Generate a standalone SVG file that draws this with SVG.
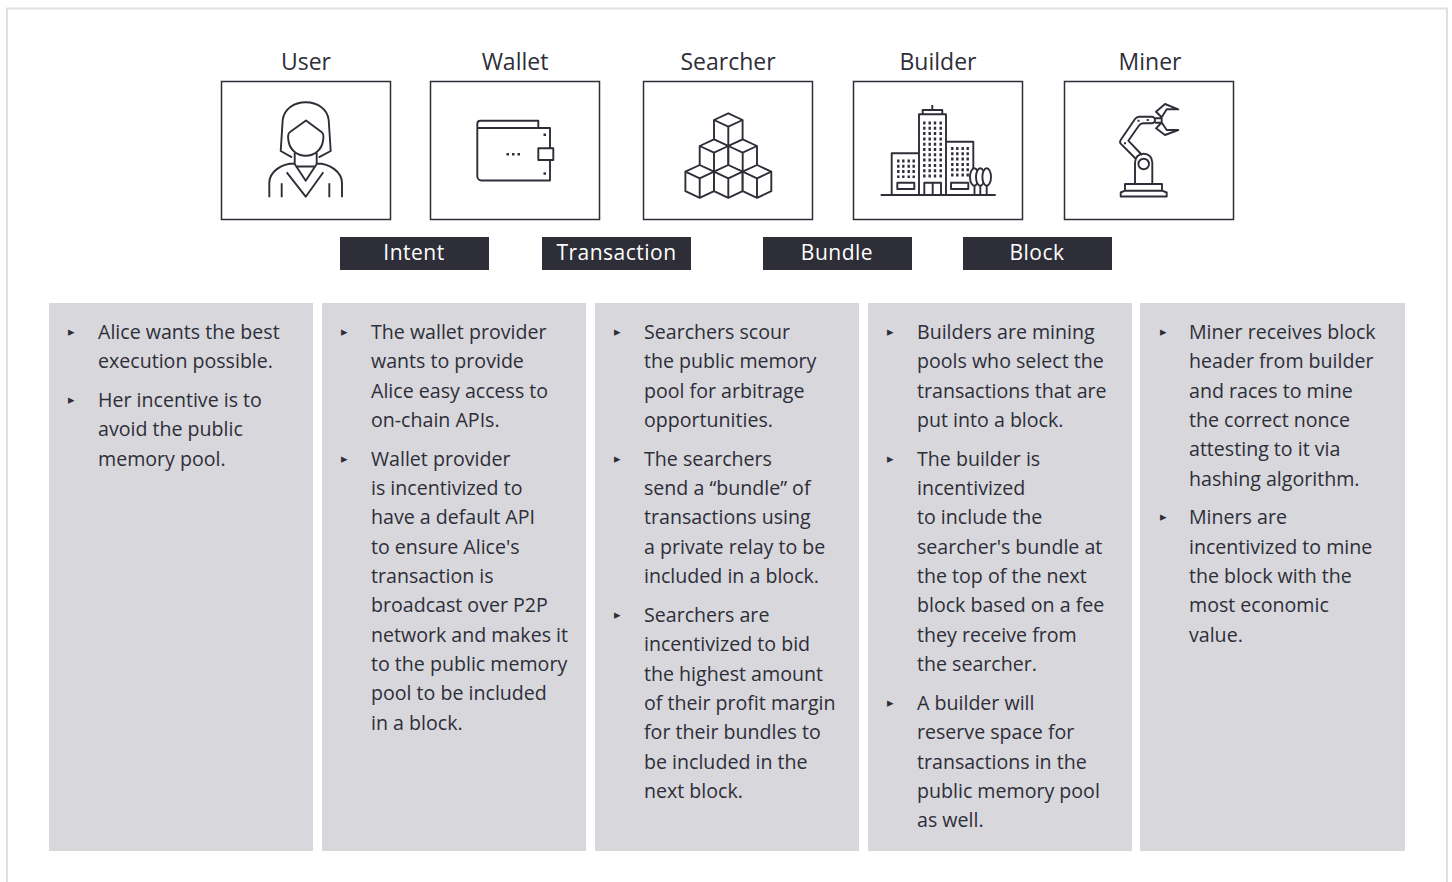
<svg xmlns="http://www.w3.org/2000/svg" width="1452" height="882" viewBox="0 0 1452 882">
<style>
text{font-family:"Open Sans","Noto Sans","Liberation Sans",sans-serif;fill:#2e2e38}
.h{font-size:23px;text-anchor:middle;font-weight:500}
.t{font-size:19.6px}
.b{font-size:13px;font-family:"DejaVu Sans",sans-serif}
.l{font-size:21px;text-anchor:middle;fill:#fff;font-weight:500;letter-spacing:.5px}
.box{fill:#fff;stroke:#2e2e38;stroke-width:1.5}
.col{fill:#d7d7dc}
.tag{fill:#2e2e38}
.i{fill:none;stroke:#2e2e38;stroke-width:1.9;stroke-linejoin:round;stroke-linecap:butt}
.w{fill:#fff}
.d{fill:none;stroke:#2e2e38;stroke-width:2.4;stroke-dasharray:3 2.3}
</style>
<defs>
<g id="cube"><path class="i w" d="M0 0L14.300 6.700V26.200L0 32.900L-14.300 26.200V6.700Z"/><path class="i" d="M-14.300 6.700L0 13.400L14.300 6.700M0 13.400V32.900"/></g>
</defs>
<rect x="7" y="8.500" width="1440" height="900" fill="none" stroke="#e0e0e4" stroke-width="2"/>
<g id="user"><text class="h" x="306" y="70">User</text><rect class="box" x="221.500" y="81.500" width="169" height="138"/>
<path class="i" d="M292 157.300L280.700 151L282.700 120C284 109 294 102.300 305.700 102.300S327.500 109 328.700 120L330.700 151L318.700 157.300M306 120.500L290 132C287 134 288 138 288.500 141C290 150 297 155.700 305.700 155.700S321.500 150 323 141C323.500 138 324.500 134 321.500 132ZM294.700 153V164L305.700 180.700L316.700 164V153M297 166.500H314.500M269.300 197.300V183C269.300 172 281 163.500 294.700 163.500M342 197.300V183C342 172 330 163.500 316.700 163.500M286.700 172.300L305.700 196.700L323.300 172.300M281.700 183.300V197.300M329.300 183.300V197.300"/></g>
<g id="wallet"><text class="h" x="515" y="70">Wallet</text><rect class="box" x="430.500" y="81.500" width="169" height="138"/>
<path class="i" d="M477.300 128V124C477.300 122 478.500 120.700 480.500 120.700H538.300V128H477.300V176C477.300 178.500 479 180.500 481.500 180.500H550V160M550 148.300V128H538.300M538.300 148.300H553.300V160H538.300Z"/>
<path fill="#2e2e38" d="M543.500 133.500h2.500v2.500h-2.500zM543.500 172.300h2.500v2.500h-2.500zM506.500 153h2.500v2.500h-2.500zM512 153h2.500v2.500h-2.500zM517.500 153h2.500v2.500h-2.500z"/></g>
<g id="searcher"><text class="h" x="728" y="70">Searcher</text><rect class="box" x="643.500" y="81.500" width="169" height="138"/>
<use href="#cube" x="728.300" y="113.300"/><use href="#cube" x="714" y="139.300"/><use href="#cube" x="742.700" y="139.300"/><use href="#cube" x="699.700" y="165"/><use href="#cube" x="728.300" y="165"/><use href="#cube" x="757" y="165"/></g>
<g id="builder"><text class="h" x="938" y="70">Builder</text><rect class="box" x="853.500" y="81.500" width="169" height="138"/>
<path class="i" d="M880.700 195H995.700M891.700 195V153.300H919M919 195V114.300H946V195M946 141.700H973.300V171.500M946 195H975M922.700 114.300V110H942.300V114.300M932.300 110V105M924.300 195V182.700H941V195M932.700 182.700V195M897.300 182.700H914.300V189H897.300ZM951 182.700H968.300V189H951Z"/>
<path class="i" d="M974.500 195V183M980.300 195V183M986.700 195V183"/>
<ellipse class="i w" cx="974.300" cy="177" rx="4.300" ry="8.700"/><ellipse class="i w" cx="980.300" cy="177" rx="4.300" ry="8.700"/><ellipse class="i w" cx="986.700" cy="177" rx="4.300" ry="8.700"/>
<path class="d" d="M898.300 159.500V178M903.300 159.500V178M908.700 159.500V178M913.700 159.500V178M924.300 121.500V178M929.700 121.500V178M935 121.500V178M940.700 121.500V178M952.300 147V178M957.300 147V178M962.700 147V178M967.700 147V178"/></g>
<g id="miner"><text class="h" x="1150" y="70">Miner</text><rect class="box" x="1064.500" y="81.500" width="169" height="138"/>
<path class="i" d="M1120.700 196.500V192.500L1125 190.700H1162L1166.700 192.500V196.500ZM1125 190.700V184H1162V190.700M1135 184V162.500C1135 157 1139 153.700 1143.700 153.700S1152.300 157 1152.300 162.500V184"/><circle class="i" cx="1143.700" cy="164" r="5.300"/>
<path class="i" d="M1139.300 116.700H1151.700A3.300 3.300 0 0 1 1151.700 123.300H1143.300M1139.300 116.700C1137 116.700 1136 117.500 1135 119L1120.700 140C1119.500 142 1120 143 1120.700 143.700L1136 159M1143.300 123.300C1141 123.300 1140 124 1139 125.500L1128.300 140.700L1142 155M1155 118.300H1161.700V122.700H1155M1161.700 117.300L1156 111.700L1165 104L1178.300 109.300H1166.700ZM1161.700 122.500L1156 128.300L1165 135L1178.300 130H1166.700Z"/>
<path fill="#2e2e38" d="M1137.500 119.700h2v2h-2zM1146.700 119h2v2h-2zM1124 142.300h2v2h-2z"/></g>
<g id="tags">
<rect class="tag" x="340" y="237" width="149" height="33"/><text class="l" x="414" y="260">Intent</text>
<rect class="tag" x="542" y="237" width="149" height="33"/><text class="l" x="616.500" y="260">Transaction</text>
<rect class="tag" x="763" y="237" width="149" height="33"/><text class="l" x="837" y="260">Bundle</text>
<rect class="tag" x="963" y="237" width="149" height="33"/><text class="l" x="1037" y="260">Block</text>
</g>
<g id="col1"><rect class="col" x="49" y="303" width="264" height="548"/>
<text class="b" x="68" y="336">▸</text><text class="t" x="98" y="339">Alice wants the best</text><text class="t" x="98" y="368">execution possible.</text>
<text class="b" x="68" y="404">▸</text><text class="t" x="98" y="407">Her incentive is to</text><text class="t" x="98" y="436">avoid the public</text><text class="t" x="98" y="466">memory pool.</text></g>
<g id="col2"><rect class="col" x="322" y="303" width="264" height="548"/>
<text class="b" x="341" y="336">▸</text><text class="t" x="371" y="339">The wallet provider</text><text class="t" x="371" y="368">wants to provide</text><text class="t" x="371" y="398">Alice easy access to</text><text class="t" x="371" y="427">on-chain APIs.</text>
<text class="b" x="341" y="463">▸</text><text class="t" x="371" y="466">Wallet provider</text><text class="t" x="371" y="495">is incentivized to</text><text class="t" x="371" y="524">have a default API</text><text class="t" x="371" y="554">to ensure Alice's</text><text class="t" x="371" y="583">transaction is</text><text class="t" x="371" y="612">broadcast over P2P</text><text class="t" x="371" y="642">network and makes it</text><text class="t" x="371" y="671">to the public memory</text><text class="t" x="371" y="700">pool to be included</text><text class="t" x="371" y="730">in a block.</text></g>
<g id="col3"><rect class="col" x="595" y="303" width="264" height="548"/>
<text class="b" x="614" y="336">▸</text><text class="t" x="644" y="339">Searchers scour</text><text class="t" x="644" y="368">the public memory</text><text class="t" x="644" y="398">pool for arbitrage</text><text class="t" x="644" y="427">opportunities.</text>
<text class="b" x="614" y="463">▸</text><text class="t" x="644" y="466">The searchers</text><text class="t" x="644" y="495">send a “bundle” of</text><text class="t" x="644" y="524">transactions using</text><text class="t" x="644" y="554">a private relay to be</text><text class="t" x="644" y="583">included in a block.</text>
<text class="b" x="614" y="619">▸</text><text class="t" x="644" y="622">Searchers are</text><text class="t" x="644" y="651">incentivized to bid</text><text class="t" x="644" y="681">the highest amount</text><text class="t" x="644" y="710">of their profit margin</text><text class="t" x="644" y="739">for their bundles to</text><text class="t" x="644" y="769">be included in the</text><text class="t" x="644" y="798">next block.</text></g>
<g id="col4"><rect class="col" x="868" y="303" width="264" height="548"/>
<text class="b" x="887" y="336">▸</text><text class="t" x="917" y="339">Builders are mining</text><text class="t" x="917" y="368">pools who select the</text><text class="t" x="917" y="398">transactions that are</text><text class="t" x="917" y="427">put into a block.</text>
<text class="b" x="887" y="463">▸</text><text class="t" x="917" y="466">The builder is</text><text class="t" x="917" y="495">incentivized</text><text class="t" x="917" y="524">to include the</text><text class="t" x="917" y="554">searcher's bundle at</text><text class="t" x="917" y="583">the top of the next</text><text class="t" x="917" y="612">block based on a fee</text><text class="t" x="917" y="642">they receive from</text><text class="t" x="917" y="671">the searcher.</text>
<text class="b" x="887" y="707">▸</text><text class="t" x="917" y="710">A builder will</text><text class="t" x="917" y="739">reserve space for</text><text class="t" x="917" y="769">transactions in the</text><text class="t" x="917" y="798">public memory pool</text><text class="t" x="917" y="827">as well.</text></g>
<g id="col5"><rect class="col" x="1140" y="303" width="265" height="548"/>
<text class="b" x="1160" y="336">▸</text><text class="t" x="1189" y="339">Miner receives block</text><text class="t" x="1189" y="368">header from builder</text><text class="t" x="1189" y="398">and races to mine</text><text class="t" x="1189" y="427">the correct nonce</text><text class="t" x="1189" y="456">attesting to it via</text><text class="t" x="1189" y="486">hashing algorithm.</text>
<text class="b" x="1160" y="521">▸</text><text class="t" x="1189" y="524">Miners are</text><text class="t" x="1189" y="554">incentivized to mine</text><text class="t" x="1189" y="583">the block with the</text><text class="t" x="1189" y="612">most economic</text><text class="t" x="1189" y="642">value.</text></g>
</svg>
